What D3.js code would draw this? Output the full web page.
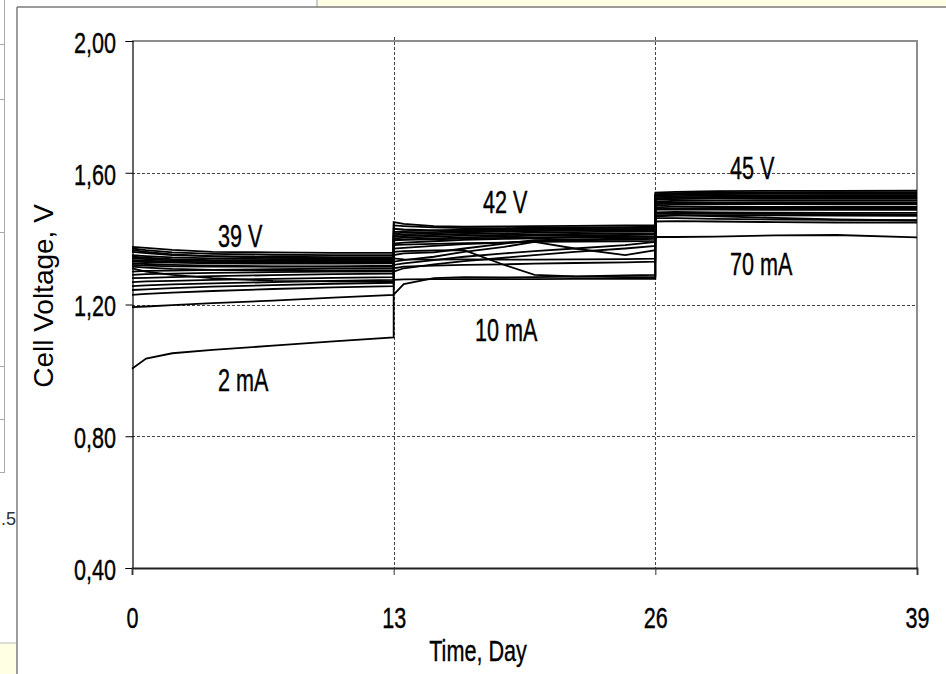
<!DOCTYPE html>
<html><head><meta charset="utf-8">
<script src="https://cdn.jsdelivr.net/npm/d3@7"></script>
<style>body{margin:0;background:#fff;overflow:hidden;} svg{display:block;}</style>
</head><body>
<svg id="c" width="946" height="674"></svg>
<script>
// Time points (days); 13 and 26 appear twice (voltage step changes)
const days = [0, 0.7, 2, 4, 7, 10, 13,  13, 13.5, 15, 16.5, 18.5, 20, 22, 24.5, 26,  26, 27, 29, 32, 35, 39];

// Cell voltage traces (V)
const cells = [
  [1.005,1.036,1.052,1.062,1.075,1.088,1.100, 1.230,1.262,1.280,1.283,1.282,1.283,1.285,1.288,1.290, 1.405,1.405,1.406,1.410,1.411,1.404],
  [1.192,1.194,1.198,1.204,1.212,1.221,1.229, 1.275,1.276,1.277,1.277,1.277,1.277,1.278,1.278,1.278, 1.452,1.453,1.452,1.450,1.449,1.449],
  [1.229,1.232,1.236,1.241,1.247,1.252,1.256, 1.300,1.310,1.322,1.332,1.342,1.350,1.360,1.370,1.378, 1.462,1.462,1.460,1.458,1.457,1.456],
  [1.244,1.246,1.250,1.254,1.259,1.263,1.266, 1.340,1.337,1.336,1.337,1.336,1.336,1.337,1.338,1.339, 1.470,1.472,1.468,1.463,1.458,1.455],
  [1.256,1.258,1.261,1.264,1.268,1.272,1.275, 1.330,1.335,1.345,1.360,1.375,1.390,1.370,1.350,1.365, 1.480,1.481,1.480,1.479,1.478,1.478],
  [1.268,1.270,1.272,1.275,1.278,1.281,1.283, 1.360,1.362,1.364,1.365,1.320,1.290,1.285,1.283,1.283, 1.488,1.489,1.488,1.487,1.487,1.487],
  [1.310,1.300,1.290,1.280,1.272,1.270,1.270, 1.350,1.355,1.358,1.370,1.385,1.395,1.398,1.400,1.402, 1.495,1.497,1.497,1.496,1.496,1.496],
  [1.290,1.292,1.294,1.296,1.298,1.300,1.300, 1.370,1.372,1.378,1.383,1.388,1.392,1.395,1.397,1.399, 1.500,1.503,1.505,1.505,1.504,1.504],
  [1.300,1.302,1.303,1.305,1.307,1.309,1.310, 1.385,1.388,1.392,1.396,1.399,1.401,1.403,1.405,1.406, 1.508,1.510,1.510,1.511,1.511,1.511],
  [1.320,1.318,1.316,1.315,1.315,1.316,1.318, 1.395,1.398,1.401,1.404,1.407,1.409,1.410,1.411,1.412, 1.512,1.515,1.516,1.517,1.517,1.517],
  [1.330,1.329,1.327,1.325,1.324,1.324,1.325, 1.400,1.403,1.406,1.409,1.411,1.413,1.414,1.416,1.417, 1.518,1.520,1.522,1.522,1.522,1.522],
  [1.340,1.338,1.334,1.332,1.331,1.331,1.332, 1.405,1.408,1.411,1.414,1.416,1.418,1.420,1.421,1.422, 1.522,1.525,1.527,1.527,1.527,1.527],
  [1.350,1.347,1.343,1.340,1.338,1.338,1.338, 1.410,1.413,1.416,1.419,1.421,1.423,1.424,1.425,1.426, 1.526,1.529,1.531,1.531,1.532,1.532],
  [1.360,1.356,1.350,1.347,1.345,1.344,1.344, 1.415,1.418,1.420,1.423,1.425,1.427,1.428,1.429,1.430, 1.530,1.533,1.535,1.536,1.536,1.536],
  [1.370,1.365,1.358,1.354,1.351,1.350,1.350, 1.420,1.423,1.425,1.427,1.429,1.431,1.432,1.433,1.434, 1.535,1.538,1.540,1.540,1.541,1.541],
  [1.375,1.372,1.366,1.360,1.358,1.357,1.357, 1.450,1.445,1.438,1.436,1.437,1.438,1.439,1.440,1.441, 1.540,1.542,1.544,1.545,1.545,1.546],
  [1.365,1.360,1.352,1.346,1.342,1.340,1.340, 1.440,1.438,1.434,1.432,1.432,1.433,1.434,1.435,1.436, 1.532,1.536,1.538,1.539,1.539,1.539],
  [1.345,1.342,1.338,1.335,1.334,1.334,1.335, 1.430,1.428,1.425,1.423,1.424,1.425,1.426,1.428,1.429, 1.520,1.524,1.525,1.525,1.524,1.524],
  [1.335,1.333,1.330,1.328,1.326,1.326,1.327, 1.395,1.396,1.398,1.400,1.402,1.404,1.405,1.406,1.407, 1.505,1.507,1.508,1.508,1.508,1.508],
  [1.325,1.323,1.320,1.318,1.316,1.315,1.315, 1.380,1.382,1.384,1.386,1.388,1.390,1.391,1.392,1.393, 1.490,1.492,1.493,1.493,1.493,1.493],
  [1.315,1.312,1.308,1.305,1.303,1.303,1.304, 1.320,1.325,1.335,1.345,1.355,1.362,1.370,1.380,1.390, 1.475,1.476,1.476,1.475,1.474,1.473],
  [1.280,1.281,1.283,1.286,1.289,1.292,1.294, 1.310,1.315,1.318,1.320,1.322,1.324,1.326,1.328,1.330, 1.468,1.470,1.471,1.471,1.470,1.469]
];

const yTicks = [0.40, 0.80, 1.20, 1.60, 2.00];
const xTicks = [0, 13, 26, 39];
const gridY = [0.80, 1.20, 1.60];
const gridX = [13, 26];
const noteText = ["39 V", "42 V", "45 V", "70 mA", "10 mA", "2 mA"];
const noteDay  = [4.27, 17.44, 29.71, 29.71, 17.04, 4.27];
const noteVolt = [1.3746, 1.478, 1.581, 1.290, 1.089, 0.937];

const svg = d3.select("#c");
const W = 946, H = 674;
const L = 132, R = 917, T = 41, B = 568;
const FONT = "'Liberation Sans',Arial,sans-serif";
const SX = 0.8, SY = 1.1; // condensing of the chart's narrow font

// background artifacts of the screenshot
svg.append("rect").attr("x", 317).attr("y", 0).attr("width", W - 317).attr("height", 7).attr("fill", "#ffffe3");
svg.append("line").attr("x1", 317).attr("x2", 317).attr("y1", 0).attr("y2", 7).attr("stroke", "#999");
svg.append("line").attr("x1", 17).attr("x2", W).attr("y1", 7).attr("y2", 7).attr("stroke", "#7a7a7a").attr("stroke-width", 1.5);
svg.append("line").attr("x1", 17).attr("x2", 17).attr("y1", 7).attr("y2", H).attr("stroke", "#7a7a7a").attr("stroke-width", 1.5);
svg.append("line").attr("x1", 4.5).attr("x2", 4.5).attr("y1", 0).attr("y2", 472).attr("stroke", "#aaa");
[44, 99, 232, 366, 419, 472].forEach(yy => svg.append("line").attr("x1", 0).attr("x2", 5).attr("y1", yy + 0.5).attr("y2", yy + 0.5).attr("stroke", "#aaa"));
svg.append("text").attr("x", 1).attr("y", 525).attr("font-family", FONT).attr("font-size", 18).attr("fill", "#333").text(".5");
svg.append("rect").attr("x", 0).attr("y", 643).attr("width", 16).attr("height", H - 643).attr("fill", "#ffffe3");
svg.append("line").attr("x1", 0).attr("x2", 16).attr("y1", 643).attr("y2", 643).attr("stroke", "#bbb");

const x = d3.scaleLinear().domain([0, 39]).range([L, R]);
const y = d3.scaleLinear().domain([0.4, 2.0]).range([B, T]);

// gridlines
svg.append("g").selectAll("line").data(gridY).join("line")
  .attr("x1", L).attr("x2", R).attr("y1", d => Math.round(y(d)) + 0.5).attr("y2", d => Math.round(y(d)) + 0.5)
  .attr("stroke", "#444").attr("stroke-width", 1).attr("stroke-dasharray", "3,2");
svg.append("g").selectAll("line").data(gridX).join("line")
  .attr("x1", d => Math.round(x(d)) + 0.5).attr("x2", d => Math.round(x(d)) + 0.5).attr("y1", T - 4).attr("y2", B)
  .attr("stroke", "#444").attr("stroke-width", 1).attr("stroke-dasharray", "3,2");

// plot frame (top/right grey)
svg.append("line").attr("x1", L).attr("x2", R + 1).attr("y1", T).attr("y2", T).attr("stroke", "#8c8c8c").attr("stroke-width", 2);
svg.append("line").attr("x1", R).attr("x2", R).attr("y1", T).attr("y2", B).attr("stroke", "#8c8c8c").attr("stroke-width", 2);

// data lines
const line = d3.line().x((d, i) => x(days[i])).y(d => y(d));
svg.append("g").selectAll("path").data(cells).join("path")
  .attr("d", line).attr("fill", "none").attr("stroke", "#000").attr("stroke-width", 1.8).attr("stroke-linejoin", "miter");

// axes
const yAxis = d3.axisLeft(y).tickValues(yTicks).tickSize(7).tickPadding(9)
  .tickFormat(d => d3.format(".2f")(d).replace(".", ","));
const gy = svg.append("g").attr("transform", `translate(${L + 0.5},0)`).call(yAxis);
gy.select(".domain").attr("stroke", "#000").attr("stroke-width", 1.2);
gy.selectAll(".tick line").attr("stroke", "#000");
gy.selectAll(".tick text").attr("font-family", FONT).attr("font-size", 27).attr("fill", "#000")
  .attr("stroke", "#000").attr("stroke-width", 0.35)
  .attr("x", 0).attr("dy", "0.35em").attr("transform", `translate(-16.5,1) scale(${SX},${SY})`);

const xAxis = d3.axisBottom(x).tickValues(xTicks).tickSize(7).tickPadding(16).tickFormat(d3.format("d"));
const gx = svg.append("g").attr("transform", `translate(0,${B})`).call(xAxis);
gx.select(".domain").attr("stroke", "#222").attr("stroke-width", 1.8);
gx.selectAll(".tick line").attr("stroke", "#333");
gx.selectAll(".tick text").attr("font-family", FONT).attr("font-size", 27).attr("fill", "#000")
  .attr("stroke", "#000").attr("stroke-width", 0.35)
  .attr("y", 0).attr("dy", 0).attr("transform", `translate(0,60) scale(${SX},${SY})`);

// axis titles
svg.append("text").attr("transform", `translate(478,661) scale(${SX},${SY})`).attr("text-anchor", "middle")
  .attr("font-family", FONT).attr("font-size", 27).attr("fill", "#000")
  .attr("stroke", "#000").attr("stroke-width", 0.35).text("Time, Day");
svg.append("text").attr("transform", "translate(53,296) rotate(-90)").attr("text-anchor", "middle")
  .attr("font-family", FONT).attr("font-size", 28).attr("fill", "#000").text("Cell Voltage, V");

// annotations
svg.append("g").selectAll("text").data(noteText).join("text")
  .attr("transform", (d, i) => `translate(${x(noteDay[i])},${y(noteVolt[i])}) scale(${SX},1.15)`)
  .attr("font-family", FONT).attr("font-size", 27).attr("fill", "#000")
  .attr("stroke", "#000").attr("stroke-width", 0.35).text(d => d);
</script>
</body></html>
